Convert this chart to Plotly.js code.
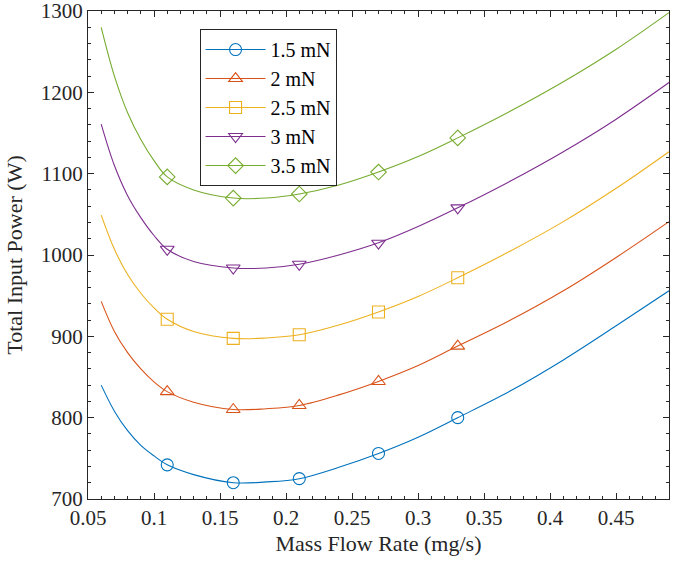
<!DOCTYPE html>
<html>
<head>
<meta charset="utf-8">
<script src="https://cdn.plot.ly/plotly-3.0.1.min.js"></script>
<style>html,body{margin:0;padding:0;background:#fff;}#chart{width:685px;height:573px;}</style>
</head>
<body>
<div id="chart"></div>
<script>
// Curve sample points (mass flow rate, mg/s)
const curveX = [0.06, 0.07, 0.08, 0.09, 0.10, 0.11, 0.13, 0.16, 0.185, 0.21, 0.24, 0.27, 0.30, 0.33, 0.37, 0.41, 0.45, 0.49];
// Total input power (W) along each curve
const p15 = [840, 808, 784, 766, 753, 742, 730, 720, 721, 725, 739, 756, 776, 800, 833, 871, 913, 956];
const p20 = [943, 906, 880, 860, 844, 832, 819, 810, 811, 815, 828, 844.5, 864, 888, 920, 956, 997, 1041];
const p25 = [1049, 1007, 976, 953, 935, 921, 906, 897.5, 898, 902, 914, 930, 949, 972, 1005, 1041, 1082, 1127];
const p30 = [1161, 1110, 1073, 1046, 1024, 1007, 992, 984, 984, 988.6, 1000, 1015, 1035, 1058, 1091, 1127, 1167, 1212];
const p35 = [1280, 1220, 1175, 1142, 1116, 1096, 1080, 1070, 1070, 1075, 1086, 1102, 1121, 1144, 1177, 1213, 1253, 1298];

// Marker points
const markerX = [0.11, 0.16, 0.21, 0.27, 0.33];
const m15 = [742, 720, 725, 756, 800];
const m20 = [832, 810, 815, 844.5, 888];
const m25 = [921, 897.5, 902, 930, 972];
const m30 = [1007, 984, 988.6, 1014.5, 1058];
const m35 = [1096, 1070, 1075, 1102, 1144];

const seriesNames = ['1.5 mN', '2 mN', '2.5 mN', '3 mN', '3.5 mN'];
const colors = ['#0072BD', '#D95319', '#EDB120', '#7E2F8E', '#77AC30'];
const symbols = ['circle-open', 'triangle-up-open', 'square-open', 'triangle-down-open', 'diamond-open'];
const curves = [p15, p20, p25, p30, p35];
const markers = [m15, m20, m25, m30, m35];

const SERIF = 'Times New Roman, Liberation Serif, Tinos, DejaVu Serif, serif';

const traces = [];
for (let i = 0; i < 5; i++) {
  traces.push({
    x: curveX, y: curves[i], mode: 'lines', type: 'scatter',
    line: {color: colors[i], width: 1.1, shape: 'spline', smoothing: 1},
    showlegend: false, hoverinfo: 'skip'
  });
  traces.push({
    x: markerX, y: markers[i], mode: 'markers', type: 'scatter',
    marker: {symbol: symbols[i], size: 12, color: colors[i], line: {color: colors[i], width: 1.1}},
    showlegend: false
  });
}
for (let i = 0; i < 5; i++) {
  traces.push({
    x: [null], y: [null], mode: 'lines+markers', type: 'scatter', name: seriesNames[i],
    line: {color: colors[i], width: 1.1},
    marker: {symbol: symbols[i], size: 12, color: colors[i], line: {color: colors[i], width: 1.1}}
  });
}

const axisCommon = {
  showline: true, mirror: 'ticks', linecolor: '#262626', linewidth: 1,
  ticks: 'inside', ticklen: 6, tickcolor: '#262626', tickwidth: 1,
  showgrid: false, zeroline: false, ticklabeloverflow: 'allow',
  tickfont: {family: SERIF, size: 21, color: '#262626'}
};

const layout = {
  width: 685, height: 573,
  margin: {l: 88, r: 16, t: 11, b: 74},
  paper_bgcolor: '#fff', plot_bgcolor: '#fff',
  font: {family: SERIF, color: '#262626'},
  xaxis: Object.assign({}, axisCommon, {
    range: [0.05, 0.49], tick0: 0.05, dtick: 0.05,
    minor: {dtick: 0.01, ticks: 'inside', ticklen: 3, tickcolor: '#262626', showgrid: false},
    title: {text: 'Mass Flow Rate (mg/s)', font: {family: SERIF, size: 22, color: '#262626'}, standoff: 6}
  }),
  yaxis: Object.assign({}, axisCommon, {
    range: [700, 1300], tick0: 700, dtick: 100,
    minor: {dtick: 20, ticks: 'inside', ticklen: 3, tickcolor: '#262626', showgrid: false},
    title: {text: 'Total Input Power (W)', font: {family: SERIF, size: 22, color: '#262626'}, standoff: 12}
  }),
  legend: {
    x: 0.192, y: 0.963, xanchor: 'left', yanchor: 'top',
    bgcolor: '#fff', bordercolor: '#262626', borderwidth: 1,
    font: {family: SERIF, size: 20, color: '#000'},
    itemwidth: 60, tracegroupgap: 0
  },
  showlegend: true
};

Plotly.newPlot('chart', traces, layout, {displayModeBar: false, staticPlot: true});
</script>
</body>
</html>
